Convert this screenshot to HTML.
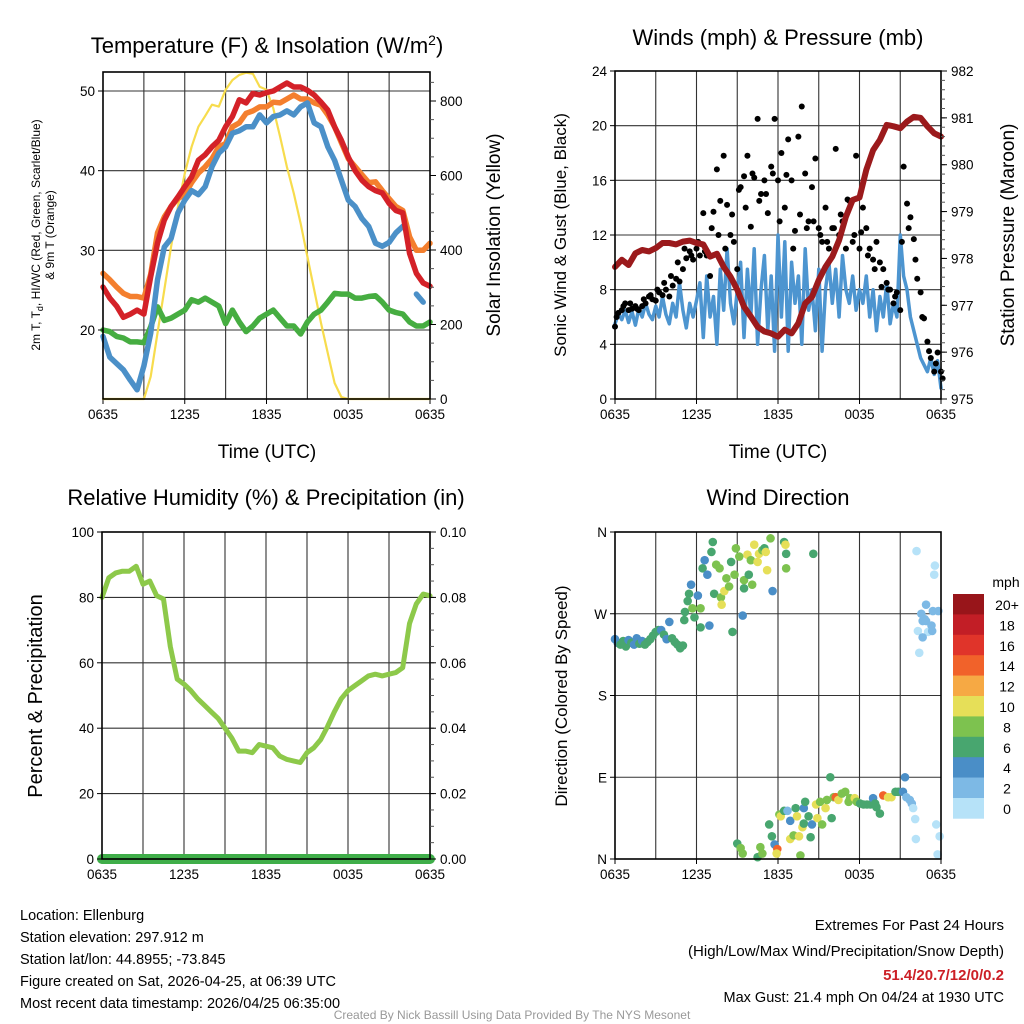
<!DOCTYPE html>
<html><head><meta charset="utf-8"><style>
html,body{margin:0;padding:0;background:#fff;}
svg{display:block;font-family:"Liberation Sans",sans-serif;}
</style></head><body>
<svg id="chart" width="1024" height="1024" viewBox="0 0 1024 1024" xmlns="http://www.w3.org/2000/svg">
<g id="layer"></g>
</svg>
<script>
// ---------- data ----------
const xTickLabels = ["0635","1235","1835","0035","0635"];
// half-hourly series (49 values, 0..24h)
const tempRed = [25.4,24,23,21.6,22,22.5,22,26.7,30.9,33.8,35.5,36.7,38,39.2,41.3,42,43,43.8,45.5,46.8,48.9,48.5,49.7,49.5,49.8,50,50.5,51,50.5,50.5,50.1,49.5,48.6,47.6,45.5,43.8,41.7,40,38.8,38,37.5,37.2,35.9,35,34.7,29.6,27.1,25.9,25.5];
const temp9m = [27.1,26.3,25.4,24.6,24.2,24.2,24,27,32.2,34.2,35.5,36.5,37,38.5,39.7,40.5,41.5,43,43.4,45.5,46,47.2,47.5,48,48,48.6,48.5,49,49.5,49,49,48.5,48.2,47,45.5,43.5,41.5,40.5,39.5,38.5,38.6,37.5,36.5,35.5,35,31.7,30,30,30.9];
const hiwcBlue = [19.2,16.6,15.8,15,13.7,12.5,15.5,19.6,26.3,30.4,31.5,34.7,36.3,37.5,37,38,40.5,42.2,43,44.7,45,45.5,45.5,47,46,46.8,47,47.5,47,48,48.5,46,45.5,43,41.3,38.8,36.3,35.5,34,33,30.9,30.5,31,32.2,33,null,24.5,23.5,null];
const dewGreen = [20,19.8,19.2,19,18.5,18.5,18.4,20.4,22.9,21.2,21.5,22,22.5,23.8,23.5,24,23.5,23,20.8,22.5,21,19.8,20.5,21.5,22,22.5,21.5,20.5,20.5,19.5,21,22,22.5,23.5,24.6,24.5,24.5,24,24,24.2,24.3,23.5,22.5,22.2,22,21,20.5,20.5,21];
const solar = [0,0,0,0,0,0,0,60,177,293,409,516,606,677,731,760,790,785,830,856,870,876,873,838,830,780,704,623,552,472,382,293,204,123,43,5,0,0,0,0,0,0,0,0,0,0,0,0,0];
// quarter-hourly sonic wind (97 values)
const windQ = [5.5,6.2,5.8,6.5,5.6,6.4,5.4,6.6,6,7,6.2,5.8,6.8,
6,7.5,6.2,5.5,7,6,8.5,6.5,5.2,7,6,7.2,
8.5,4.5,9,6,7.5,4,9.5,6.5,11,7,5.5,8,
10,4.5,9.5,6,11,4,8,10.5,5,9,3.5,12,
6,11.5,3.5,10,7,9,4,11,6.5,8,5,9.5,
3.5,8,10,7,9.5,6,10.5,8,7,9,6.5,8,
7,9,6,8,5,7.5,6,8.5,5.5,7,6,12,
9,8,6,5,4,3,2.5,2,3,1.8,2.8,0.8];
const pressure = [977.82,977.97,977.86,978.11,978.18,978.15,978.22,978.33,978.33,978.3,978.36,978.38,978.33,978.3,978.04,978.1,977.82,977.61,977.33,976.97,976.76,976.54,976.44,976.4,976.33,976.48,976.4,976.62,977.04,977.18,977.54,977.82,978.04,978.39,978.89,979.25,979.3,979.89,980.31,980.53,980.85,980.82,980.78,980.92,981.02,981,980.82,980.67,980.6];
const rh = [80,86,87.5,88,88,89.5,84,85,80.5,79.5,65,55,53.5,51.5,49,47,45,43,40,37,33,33,32.5,35,34.5,34,31.5,30.5,30,29.5,32.5,34,36.5,40.5,45,49,51.5,53,54.5,56,56.5,56,56.5,57,58.5,72,78,81,80.5];
const precip = [0,0,0,0,0,0,0,0,0,0,0,0,0,0,0,0,0,0,0,0,0,0,0,0,0,0,0,0,0,0,0,0,0,0,0,0,0,0,0,0,0,0,0,0,0,0,0,0,0];
// quarter-hourly gusts (97 values)
const gustQ = [5.3,6.3,6.5,7,6.5,6.6,6.8,6.5,6.8,7,7.5,7.3,7.2,7.8,7.6,8,7.5,8.3,8.8,8.6,9.5,10.3,10.8,10.2,11,10.5,13.6,10.5,9,13.7,16.8,14.5,17.8,14.2,12,11.5,9.5,15.5,16.3,17.8,12.6,16.2,20.5,15,16,13.6,17,20.5,16,18,14,19,16,12.3,19.2,21.4,16.5,13,15.5,17.6,12.5,11.5,14,11,12.5,18.3,12,13,11,14.5,11.5,17.8,11,14,12.5,11,10.2,11.5,10,9.5,8.5,8,7,7.8,6.5,17,14.3,13.3,11.7,8.8,7.8,5.9,4.2,3,2,3.4,2];
// half-hourly secondary gusts
const gustH = [6,6.8,7,6.6,7.3,7.6,8,8.5,9,10,11,10.5,11.5,10.8,12.5,12,11,13.5,15.3,14,16.5,14.5,15,16.5,13,16.4,11,13.5,12.5,13,12,11.5,12.5,13.5,14.6,12,12.2,10.5,9.5,8.2,8,7.5,11.5,12.5,10.2,6,3.5,2.6,1.5];
// wind direction observations
const dirTime = [0,0.2,0.4,0.6,0.8,1,1.2,1.4,1.6,1.8,2,2.2,2.4,2.6,2.8,3,3.2,3.4,3.6,3.8,4,4.2,4.4,4.6,4.8,5,5.1,5.15,5.35,5.45,5.6,5.7,5.85,6.1,6.3,6.3,6.45,6.6,6.8,6.95,7.1,7.2,7.3,7.45,7.7,7.8,7.85,8.05,8.2,8.4,8.55,8.65,8.8,8.9,9.15,9.4,9.5,9.5,9.75,9.85,10,10.1,10.25,10.5,10.6,10.85,11,11.1,11.2,11.45,11.6,12.45,12.55,12.6,12.6,14.6,
9,9.25,9.4,10.5,10.7,10.85,11.35,11.55,11.75,11.95,11.9,12.1,12.2,12.45,12.7,12.9,12.9,13.15,13.3,13.4,13.55,13.65,13.8,13.9,13.9,14,14.25,14.4,14.5,14.8,14.9,15.1,15.25,15.5,15.6,15.85,15.95,16.1,16.25,16.45,16.7,16.95,17.2,17.3,17.65,17.8,18.05,18.3,18.55,18.8,19,19.15,19.25,19.5,19.75,20.1,20.35,20.65,20.85,21.2,21.35,21.45,21.7,21.85,21.95,22.1,22.15,23.65,23.9,23.75,
22.2,23.55,23.5,22.9,22.55,22.65,22.8,22.9,23.05,23.3,23.35,23.4,23.8,22.3,22.65,22.4];
const dirDeg = [242,238,236,240,234,241,238,236,243,237,240,236,239,242,246,250,252,252,247,242,261,243,239,236,232,235,263,272,284,292,302,276,266,290,276,255,320,329,313,257,338,349,292,324,320,288,280,295,309,300,327,250,313,342,333,268,298,307,335,313,329,302,346,327,336,340,342,338,318,353,295,349,346,336,320,336,
17,12,6,2,13,6,38,25,16,11,6,49,47,53,53,42,22,26,56,47,25,4,35,39,56,63,47,24,38,60,45,63,38,56,65,90,45,68,68,65,72,74,63,67,67,63,61,60,60,60,67,61,57,50,70,68,68,74,74,74,90,68,65,61,56,44,22,38,25,5,
339,323,313,280,270,262,264,262,250,257,251,273,273,251,244,227];
const dirSpeed = [4,5,6,6,6,5,6,4,4,6,5,6,6,6,6,6,6,5,6,4,4,6,6,6,6,6,6,6,6,6,4,8,6,4,8,6,6,4,4,4,6,6,6,8,8,8,10,10,8,8,6,6,8,8,8,4,6,8,10,6,8,8,10,10,10,8,6,10,10,8,4,6,10,6,8,6,
6,8,8,6,8,8,6,6,4,14,10,8,10,6,2,4,10,8,6,10,10,8,10,6,4,6,6,6,4,10,10,8,8,10,8,6,6,8,14,10,8,8,8,8,10,8,6,6,6,6,4,6,6,6,14,10,10,6,6,4,4,2,2,2,0,0,0,0,0,0,
0,0,0,2,2,2,2,2,0,2,2,2,2,0,2,0];
const speedBins = ["0","2","4","6","8","10","12","14","16","18","20+"];
const speedColors = ["#b6e2f8","#7db9e5","#4a8ec7","#48a66f","#7dc24f","#e6df58","#f6a944","#f1622a","#e0342a","#c21e26","#98151a"];

// ---------- helpers ----------
const NS="http://www.w3.org/2000/svg";
const layer=document.getElementById('layer');
function mk(tag,attrs,parent){const e=document.createElementNS(NS,tag);for(const k in attrs)e.setAttribute(k,attrs[k]);(parent||layer).appendChild(e);return e;}
function txt(s,x,y,size,anchor,parent,extra){const t=mk('text',Object.assign({x:x,y:y,'font-size':size,'text-anchor':anchor||'middle',fill:'#000'},extra||{}),parent);t.textContent=s;return t;}
function lin(a,b,c,d){return v=>c+(v-a)*(d-c)/(b-a);}

function panelFrame(name,L,R,T,B,hTicks,yL){
  const g=mk('g',{});
  
  
  for(let h=3;h<24;h+=3){const x=lin(0,24,L,R)(h);const l=mk('line',{x1:x,x2:x,y1:T,y2:B,stroke:'#333','stroke-width':1.1},g);}
  hTicks.forEach(v=>{const y=yL(v);if(y>T+1&&y<B-1){const l=mk('line',{x1:L,x2:R,y1:y,y2:y,stroke:'#333','stroke-width':1.1},g);}});
  xTickLabels.forEach((s,i)=>{const x=lin(0,4,L,R)(i);const t=txt(s,x,B+20,13.5,'middle',g);mk('line',{x1:x,x2:x,y1:B,y2:B+5,stroke:'#000'},g);});
  return g;
}
function border(L,R,T,B){const r=mk('rect',{x:L,y:T,width:R-L,height:B-T,fill:'none',stroke:'#000','stroke-width':1.6});}
function path(xs,ys,sx,sy,color,w,name){let d='',pen=false;for(let i=0;i<ys.length;i++){if(ys[i]===null){pen=false;continue;}d+=(pen?'L':'M')+sx(xs[i]).toFixed(1)+','+sy(ys[i]).toFixed(1);pen=true;}const p=mk('path',{d:d,fill:'none',stroke:color,'stroke-width':w,'stroke-linejoin':'round','stroke-linecap':'round'});return p;}
const halfT=rh.map((_,i)=>i*0.5);
const quarterT=gustQ.map((_,i)=>i*0.25);
function leftTicks(vals,labels,L,sy){vals.forEach((v,i)=>{const y=sy(v);mk('line',{x1:L-5,x2:L,y1:y,y2:y,stroke:'#000'});const t=txt(labels[i],L-8,y+5,13.5,'end');});}
function rightTicks(vals,labels,R,sy,minor){if(minor)minor.forEach(v=>{const y=sy(v);mk('line',{x1:R,x2:R+4,y1:y,y2:y,stroke:'#555'});});vals.forEach((v,i)=>{const y=sy(v);mk('line',{x1:R,x2:R+6,y1:y,y2:y,stroke:'#000'});const t=txt(labels[i],R+10,y+5,13.5,'start');});}
function rotLabel(s,x,y,size,name){const t=txt(s,x,y,size,'middle',layer,{transform:`rotate(-90 ${x} ${y})`});return t;}

// ---------- Panel 1 ----------
{const L=103,R=430,T=72,B=399;const sx=lin(0,24,L,R);const sy=lin(20,50,330,91);const sy2=lin(0,800,399,101);
panelFrame('temperature-panel',L,R,T,B,[20,30,40,50],sy);
path(halfT,solar,sx,sy2,'#f7dc4d',2.2,'solar-insolation-line');
path(halfT,dewGreen,sx,sy,'#46ad41',5.5,'dewpoint-line');
path(halfT,temp9m,sx,sy,'#f47f2e',5.5,'temp-9m-line');
path(halfT,hiwcBlue,sx,sy,'#4b90c8',5.5,'heat-index-windchill-line');
path(halfT,tempRed,sx,sy,'#d42128',5.5,'temp-2m-line');
border(L,R,T,B);
leftTicks([20,30,40,50],['20','30','40','50'],L,sy);
const minor=[];for(let v=50;v<=875;v+=50)minor.push(v);
rightTicks([0,200,400,600,800],['0','200','400','600','800'],R,sy2,minor);
const t=mk('text',{x:267,y:53,'font-size':22,'text-anchor':'middle'});
t.innerHTML='Temperature (F) &amp; Insolation (W/m<tspan dy="-8" font-size="14">2</tspan><tspan dy="8">)</tspan>';
const a=mk('text',{x:40,y:235,'font-size':12,'text-anchor':'middle',transform:'rotate(-90 40 235)'});
a.innerHTML='2m T, T<tspan dy="3" font-size="9">d</tspan><tspan dy="-3">, HI/WC (Red, Green, Scarlet/Blue)</tspan>';
rotLabel('& 9m T (Orange)',54,235,12,'temperature-y-axis-title-2');
rotLabel('Solar Insolation (Yellow)',500,235,19,'solar-y-axis-title');
const xl=txt('Time (UTC)',267,458,19);}

// ---------- Panel 2 ----------
{const L=615,R=941,T=71,B=399;const sx=lin(0,24,L,R);const sy=lin(0,24,B,T);const sy2=lin(975,982,B,T);
panelFrame('winds-panel',L,R,T,B,[4,8,12,16,20],sy);
path(quarterT,windQ,sx,sy,'#4d95d0',3.5,'sonic-wind-line');
gustQ.forEach((v,i)=>{const c=mk('circle',{cx:sx(quarterT[i]),cy:sy(v),r:3,fill:'#000'});});
gustH.forEach((v,i)=>{const c=mk('circle',{cx:sx(halfT[i]+0.12),cy:sy(v),r:3,fill:'#000'});});
path(halfT,pressure,sx,sy2,'#9b1a1c',6,'station-pressure-line');
border(L,R,T,B);
leftTicks([0,4,8,12,16,20,24],['0','4','8','12','16','20','24'],L,sy);
const minor=[];for(let v=975;v<=982;v+=0.2)minor.push(v);
rightTicks([975,976,977,978,979,980,981,982],['975','976','977','978','979','980','981','982'],R,sy2,minor);
const t=txt('Winds (mph) & Pressure (mb)',778,45,22);
rotLabel('Sonic Wind & Gust (Blue, Black)',566,235,17,'wind-y-axis-title');
rotLabel('Station Pressure (Maroon)',1014,235,19,'pressure-y-axis-title');
const xl=txt('Time (UTC)',778,458,19);}

// ---------- Panel 3 ----------
{const L=102,R=430,T=532,B=859;const sx=lin(0,24,L,R);const sy=lin(0,100,B,T);const sy2=lin(0,0.1,B,T);
panelFrame('humidity-panel',L,R,T,B,[20,40,60,80],sy);
path(halfT,rh,sx,sy,'#8dc94a',5,'relative-humidity-line');
path(halfT,precip,sx,sy2,'#3fae49',10,'precipitation-line');
border(L,R,T,B);
leftTicks([0,20,40,60,80,100],['0','20','40','60','80','100'],L,sy);
const minor=[];for(let v=0;v<=0.1;v+=0.005)minor.push(v);
rightTicks([0,0.02,0.04,0.06,0.08,0.1],['0.00','0.02','0.04','0.06','0.08','0.10'],R,sy2,minor);
const t=txt('Relative Humidity (%) & Precipitation (in)',266,505,22);
rotLabel('Percent & Precipitation',42,696,20,'humidity-y-axis-title');}

// ---------- Panel 4 ----------
{const L=615,R=941,T=532,B=859;const sx=lin(0,24,L,R);const sy=lin(0,360,B,T);
panelFrame('wind-direction-panel',L,R,T,B,[90,180,270],sy);
dirTime.forEach((tv,i)=>{const k=Math.min(10,Math.floor(dirSpeed[i]/2));const c=mk('circle',{cx:sx(tv),cy:sy(dirDeg[i]),r:4.3,fill:speedColors[k]});});
border(L,R,T,B);
leftTicks([0,90,180,270,360],['N','E','S','W','N'],L,sy);
const t=txt('Wind Direction',778,505,22);
rotLabel('Direction (Colored By Speed)',567,696,17,'direction-y-axis-title');
const cb=mk('g',{});
const top=594,h=20.4;
speedBins.forEach((s,i)=>{const j=10-i;const y=top+i*h;const r=mk('rect',{x:953,y:y,width:31,height:h+0.3,fill:speedColors[j]},cb);const l=txt(speedBins[j],1007,y+16,14,'middle',cb);});
const u=txt('mph',1006,587,14,'middle',cb);}

// ---------- footer ----------
{const lines=['Location: Ellenburg','Station elevation: 297.912 m','Station lat/lon: 44.8955; -73.845','Figure created on Sat, 2026-04-25, at 06:39 UTC','Most recent data timestamp: 2026/04/25 06:35:00'];
lines.forEach((s,i)=>{const t=txt(s,20,920+i*22,14.5,'start');});
const r1=txt('Extremes For Past 24 Hours',1004,930,15,'end');
const r2=txt('(High/Low/Max Wind/Precipitation/Snow Depth)',1004,956,15,'end');
const r3=txt('51.4/20.7/12/0/0.2',1004,980,15,'end',layer,{fill:'#cc1f26','font-weight':'bold'});
const r4=txt('Max Gust: 21.4 mph On 04/24 at 1930 UTC',1004,1002,14.5,'end');
const c=txt('Created By Nick Bassill Using Data Provided By The NYS Mesonet',512,1019,12,'middle',layer,{fill:'#999'});}
</script>
</body></html>
